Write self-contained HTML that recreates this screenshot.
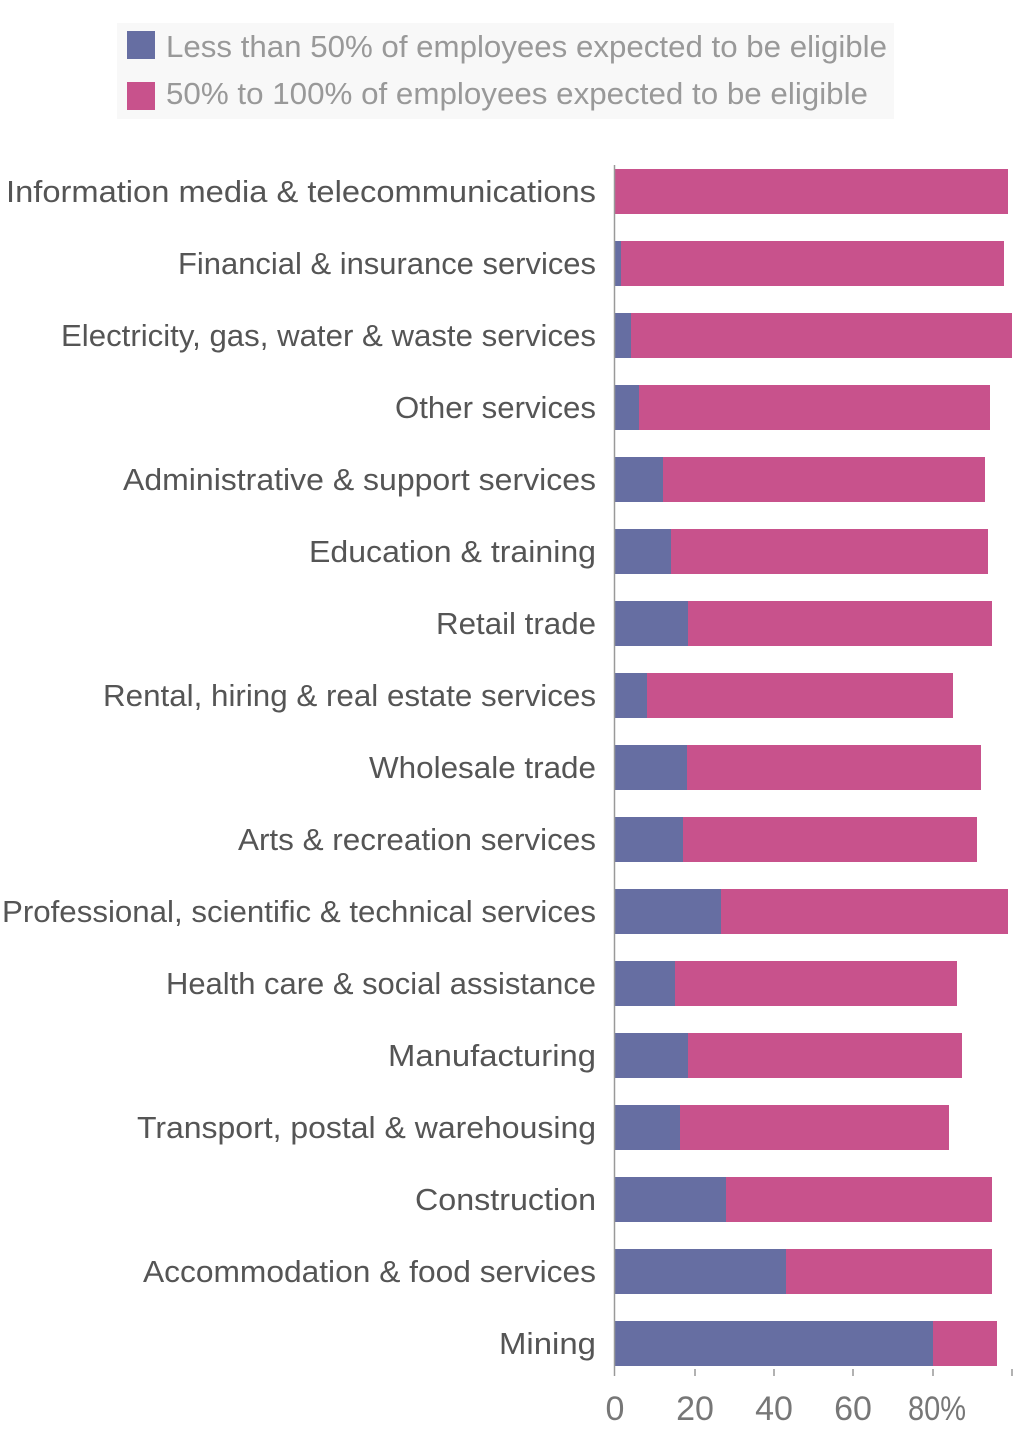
<!DOCTYPE html>
<html><head><meta charset="utf-8"><style>
html,body{margin:0;padding:0;background:#fff;}
svg{display:block;}
text{font-family:"Liberation Sans",sans-serif;}
</style></head><body>
<svg width="1024" height="1454" xmlns="http://www.w3.org/2000/svg">
<rect x="117" y="23" width="777" height="96" fill="#f8f8f8"/>
<rect x="127" y="31" width="28" height="28" fill="#666ea2"/>
<rect x="127" y="82" width="28" height="28" fill="#c8528c"/>
<text x="166" y="57" font-size="31" fill="#999" textLength="721" lengthAdjust="spacingAndGlyphs">Less than 50% of employees expected to be eligible</text>
<text x="166" y="104" font-size="31" fill="#999" textLength="702" lengthAdjust="spacingAndGlyphs">50% to 100% of employees expected to be eligible</text>
<g fill="#666ea2">
<rect x="614" y="241" width="7" height="45"/>
<rect x="614" y="313" width="17" height="45"/>
<rect x="614" y="385" width="25" height="45"/>
<rect x="614" y="457" width="49" height="45"/>
<rect x="614" y="529" width="57" height="45"/>
<rect x="614" y="601" width="74" height="45"/>
<rect x="614" y="673" width="33" height="45"/>
<rect x="614" y="745" width="73" height="45"/>
<rect x="614" y="817" width="69" height="45"/>
<rect x="614" y="889" width="107" height="45"/>
<rect x="614" y="961" width="61" height="45"/>
<rect x="614" y="1033" width="74" height="45"/>
<rect x="614" y="1105" width="66" height="45"/>
<rect x="614" y="1177" width="112" height="45"/>
<rect x="614" y="1249" width="172" height="45"/>
<rect x="614" y="1321" width="319" height="45"/>
</g>
<g fill="#c8528c">
<rect x="614" y="169" width="394" height="45"/>
<rect x="621" y="241" width="383" height="45"/>
<rect x="631" y="313" width="381" height="45"/>
<rect x="639" y="385" width="351" height="45"/>
<rect x="663" y="457" width="322" height="45"/>
<rect x="671" y="529" width="317" height="45"/>
<rect x="688" y="601" width="304" height="45"/>
<rect x="647" y="673" width="306" height="45"/>
<rect x="687" y="745" width="294" height="45"/>
<rect x="683" y="817" width="294" height="45"/>
<rect x="721" y="889" width="287" height="45"/>
<rect x="675" y="961" width="282" height="45"/>
<rect x="688" y="1033" width="274" height="45"/>
<rect x="680" y="1105" width="269" height="45"/>
<rect x="726" y="1177" width="266" height="45"/>
<rect x="786" y="1249" width="206" height="45"/>
<rect x="933" y="1321" width="64" height="45"/>
</g>
<g font-size="31" fill="#555" lengthAdjust="spacingAndGlyphs">
<text x="6" y="202" textLength="590" lengthAdjust="spacingAndGlyphs">Information media &amp; telecommunications</text>
<text x="178" y="274" textLength="418" lengthAdjust="spacingAndGlyphs">Financial &amp; insurance services</text>
<text x="61" y="346" textLength="535" lengthAdjust="spacingAndGlyphs">Electricity, gas, water &amp; waste services</text>
<text x="395" y="418" textLength="201" lengthAdjust="spacingAndGlyphs">Other services</text>
<text x="123" y="490" textLength="473" lengthAdjust="spacingAndGlyphs">Administrative &amp; support services</text>
<text x="309" y="562" textLength="287" lengthAdjust="spacingAndGlyphs">Education &amp; training</text>
<text x="436" y="634" textLength="160" lengthAdjust="spacingAndGlyphs">Retail trade</text>
<text x="103" y="706" textLength="493" lengthAdjust="spacingAndGlyphs">Rental, hiring &amp; real estate services</text>
<text x="369" y="778" textLength="227" lengthAdjust="spacingAndGlyphs">Wholesale trade</text>
<text x="238" y="850" textLength="358" lengthAdjust="spacingAndGlyphs">Arts &amp; recreation services</text>
<text x="2" y="922" textLength="594" lengthAdjust="spacingAndGlyphs">Professional, scientific &amp; technical services</text>
<text x="166" y="994" textLength="430" lengthAdjust="spacingAndGlyphs">Health care &amp; social assistance</text>
<text x="388" y="1066" textLength="208" lengthAdjust="spacingAndGlyphs">Manufacturing</text>
<text x="137" y="1138" textLength="459" lengthAdjust="spacingAndGlyphs">Transport, postal &amp; warehousing</text>
<text x="415" y="1210" textLength="181" lengthAdjust="spacingAndGlyphs">Construction</text>
<text x="143" y="1282" textLength="453" lengthAdjust="spacingAndGlyphs">Accommodation &amp; food services</text>
<text x="499" y="1354" textLength="97" lengthAdjust="spacingAndGlyphs">Mining</text>
</g>
<line x1="614.5" y1="165" x2="614.5" y2="1376" stroke="#999" stroke-width="1.5"/>
<g stroke="#999" stroke-width="1.5">
<line x1="695" y1="1369" x2="695" y2="1376"/><line x1="774" y1="1369" x2="774" y2="1376"/>
<line x1="853" y1="1369" x2="853" y2="1376"/><line x1="933" y1="1369" x2="933" y2="1376"/>
<line x1="1012" y1="1369" x2="1012" y2="1376"/></g>
<g font-size="34" fill="#777" text-anchor="middle">
<text x="615" y="1420">0</text><text x="695" y="1420">20</text><text x="774" y="1420">40</text>
<text x="853" y="1420">60</text><text x="937" y="1420" textLength="58" lengthAdjust="spacingAndGlyphs">80%</text></g>
</svg>
</body></html>
